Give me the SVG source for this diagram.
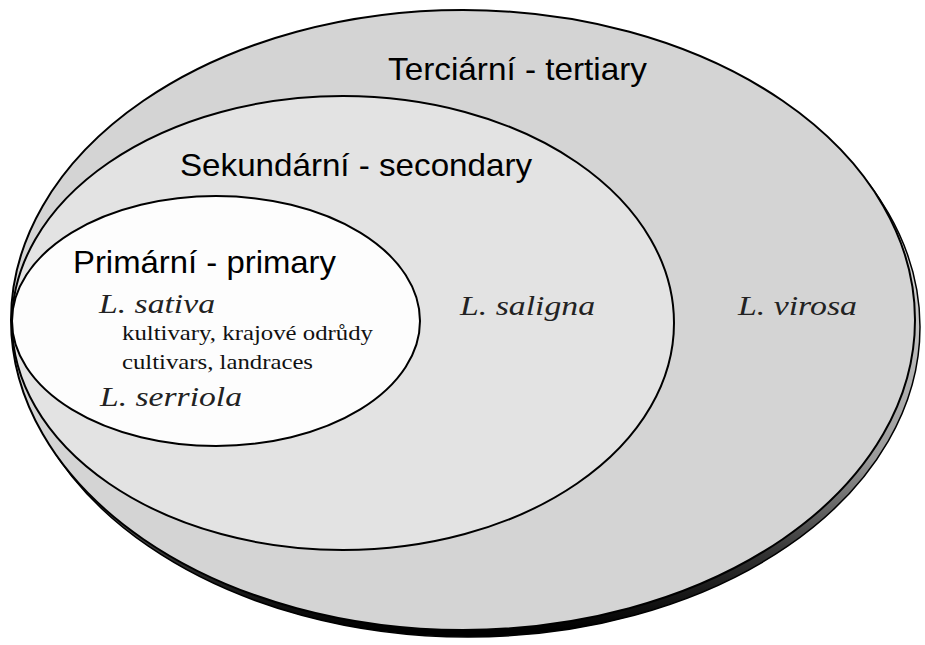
<svg xmlns="http://www.w3.org/2000/svg" width="925" height="645" viewBox="0 0 925 645">
  <defs>
    <linearGradient id="shadowGrad" gradientUnits="userSpaceOnUse" x1="0" y1="250" x2="0" y2="630">
      <stop offset="0" stop-color="#d8d8d8"/>
      <stop offset="0.55" stop-color="#9a9a9a"/>
      <stop offset="0.8" stop-color="#333333"/>
      <stop offset="1" stop-color="#000000"/>
    </linearGradient>
    <style>
      .ring { stroke: #000; stroke-width: 2; }
      .sans { font-family: "Liberation Sans", Arial, sans-serif; font-size: 32px; fill: #000; }
      .ital { font-family: "Liberation Serif", "Times New Roman", serif; font-style: italic; font-size: 28px; fill: #222; }
      .ser { font-family: "Liberation Serif", "Times New Roman", serif; font-size: 22px; fill: #111; }
    </style>
  </defs>
  <rect x="0" y="0" width="925" height="645" fill="#ffffff"/>

  <g id="tertiary">
    <ellipse cx="468" cy="327" rx="452" ry="310" fill="url(#shadowGrad)" stroke="#000" stroke-width="1.5"/>
    <ellipse class="ring" cx="463" cy="320" rx="452" ry="310" fill="#d4d4d4"/>
    <text class="sans" x="388" y="80" textLength="259" lengthAdjust="spacingAndGlyphs">Terciární - tertiary</text>
    <text class="ital" x="738" y="315" textLength="119" lengthAdjust="spacingAndGlyphs">L. virosa</text>
  </g>

  <g id="secondary">
    <ellipse class="ring" cx="343" cy="323" rx="331" ry="227" fill="#e3e3e3"/>
    <text class="sans" x="180" y="176" textLength="352" lengthAdjust="spacingAndGlyphs">Sekundární - secondary</text>
    <text class="ital" x="460" y="315" textLength="135" lengthAdjust="spacingAndGlyphs">L. saligna</text>
  </g>

  <g id="primary">
    <ellipse class="ring" cx="216" cy="321" rx="204" ry="125" fill="#fdfdfd"/>
    <text class="sans" x="73" y="273" textLength="263" lengthAdjust="spacingAndGlyphs">Primární - primary</text>
    <text class="ital" x="99" y="313" textLength="116" lengthAdjust="spacingAndGlyphs">L. sativa</text>
    <text class="ser" x="122" y="340" textLength="251" lengthAdjust="spacingAndGlyphs">kultivary, krajové odrůdy</text>
    <text class="ser" x="122" y="369" textLength="191" lengthAdjust="spacingAndGlyphs">cultivars, landraces</text>
    <text class="ital" x="100" y="406" textLength="142" lengthAdjust="spacingAndGlyphs">L. serriola</text>
  </g>

  <g id="connectors"></g>
</svg>
